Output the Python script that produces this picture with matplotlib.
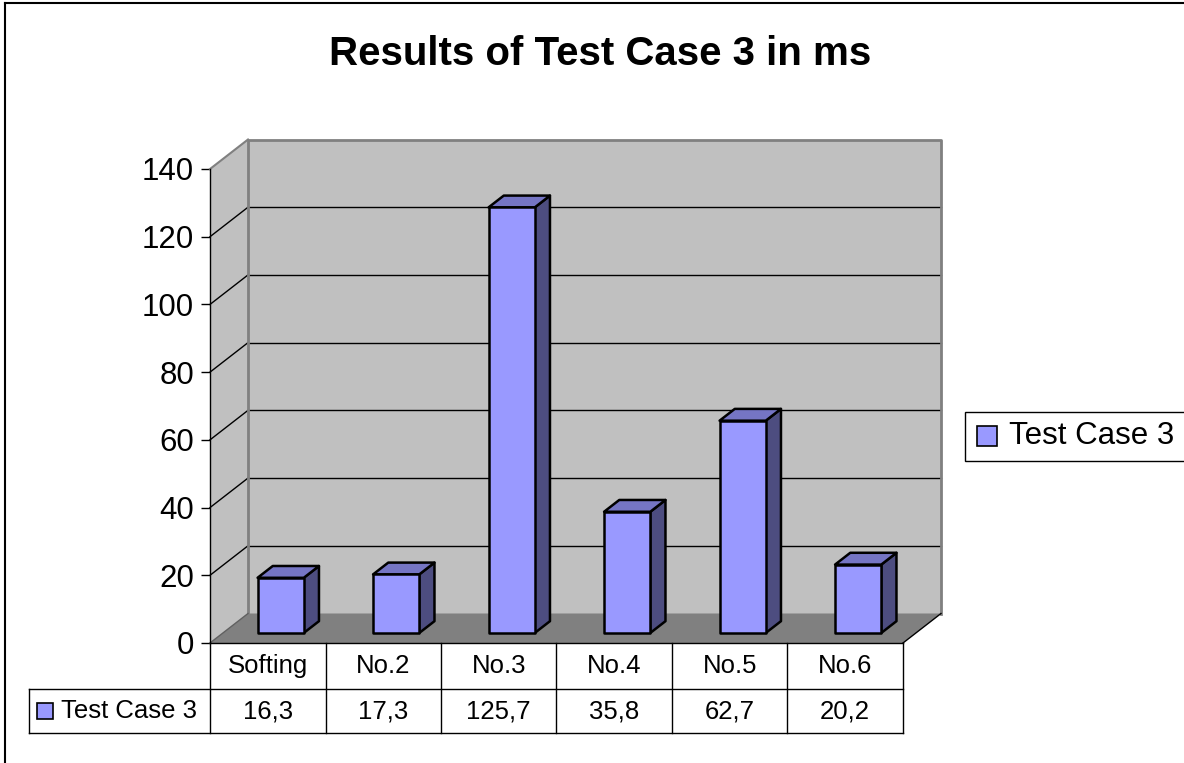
import matplotlib
matplotlib.use("Agg")
import matplotlib.pyplot as plt
from matplotlib.patches import Polygon, Rectangle
from matplotlib.lines import Line2D

plt.rcParams['font.family'] = ['Liberation Sans', 'DejaVu Sans']

# ---- data ----
categories = ["Softing", "No.2", "No.3", "No.4", "No.5", "No.6"]
values = [16.3, 17.3, 125.7, 35.8, 62.7, 20.2]
series_name = "Test Case 3"
title = "Results of Test Case 3 in ms"
yticks = [0, 20, 40, 60, 80, 100, 120, 140]

# ---- style ----
FRONT = "#9999FF"
TOP = "#7575C4"
SIDE = "#4D4D80"
WALL = "#C0C0C0"
FLOOR = "#808080"
EDGEGRAY = "#808080"

W, H = 1184, 763
fig = plt.figure(figsize=(W / 100, H / 100), dpi=100)
fig.patch.set_facecolor("white")

# axes = front plane of the 3D plot
L_px, R_px, T_px, B_px = 210, 903, 169, 643
ax = fig.add_axes([L_px / W, 1 - B_px / H, (R_px - L_px) / W, (B_px - T_px) / H])
n = len(categories)
ymax = 140
ax.set_xlim(0, n)
ax.set_ylim(0, ymax)
ax.set_facecolor("none")

px_x = (R_px - L_px) / n          # pixels per category
px_y = (B_px - T_px) / ymax       # pixels per value unit
DX = 38 / px_x                    # depth offset (category units)
DY = 29.5 / px_y                  # depth offset (value units)

# side wall
ax.add_patch(Polygon([(0, 0), (DX, DY), (DX, ymax + DY), (0, ymax)], closed=True,
                     facecolor=WALL, edgecolor="none", clip_on=False, zorder=1))
# back wall
ax.add_patch(Rectangle((DX, DY), n, ymax, facecolor=WALL, edgecolor="none",
                       clip_on=False, zorder=1))
# floor
ax.add_patch(Polygon([(0, 0), (n, 0), (n + DX, DY), (DX, DY)], closed=True,
                     facecolor=FLOOR, edgecolor="none", clip_on=False, zorder=1))

# gridlines
for t in yticks[1:-1]:
    ax.plot([DX, n + DX], [t + DY, t + DY], color="black", lw=1, clip_on=False, zorder=2)
    ax.plot([0, DX], [t, t + DY], color="black", lw=1, clip_on=False, zorder=2)

# wall outlines
ax.plot([DX, DX, n + DX, n + DX], [DY, ymax + DY, ymax + DY, DY], color=EDGEGRAY,
        lw=2, clip_on=False, zorder=2)
ax.plot([0, DX], [ymax, ymax + DY], color=EDGEGRAY, lw=1.5, clip_on=False, zorder=2)
ax.plot([0, DX], [0, DY], color="#606060", lw=1, clip_on=False, zorder=2)
ax.plot([n, n + DX], [0, DY], color="black", lw=1, clip_on=False, zorder=2)

# bars
bw = 0.4
f0, f1 = 0.34, 0.74
a, b = f0 * DX, f0 * DY
c, d = f1 * DX, f1 * DY
for i, v in enumerate(values):
    x0 = i + 0.5 - bw / 2
    x1 = x0 + bw
    kw = dict(closed=True, edgecolor="black", lw=1.8, joinstyle="round",
              clip_on=False, zorder=3)
    ax.add_patch(Polygon([(x1 + a, b), (x1 + c, d), (x1 + c, v + d), (x1 + a, v + b)],
                         facecolor=SIDE, **kw))
    ax.add_patch(Polygon([(x0 + a, v + b), (x1 + a, v + b), (x1 + c, v + d), (x0 + c, v + d)],
                         facecolor=TOP, **kw))
    ax.add_patch(Polygon([(x0 + a, b), (x1 + a, b), (x1 + a, v + b), (x0 + a, v + b)],
                         facecolor=FRONT, **kw))

# y axis
for s in ["top", "right", "bottom"]:
    ax.spines[s].set_visible(False)
ax.spines["left"].set_color("black")
ax.spines["left"].set_linewidth(1)
ax.spines["left"].set_zorder(4)
ax.set_yticks(yticks)
ax.set_yticklabels([str(t) for t in yticks], fontsize=22.5)
ax.tick_params(axis="y", direction="out", length=6.5, width=1, pad=5, colors="black")
ax.set_xticks([])

# data table
r1 = 46 / px_y
r2 = 44 / px_y
Lx = (29 - L_px) / px_x
tk = dict(color="black", lw=1, clip_on=False, zorder=4)
ax.plot([0, n], [0, 0], **tk)
ax.plot([Lx, n], [-r1, -r1], **tk)
ax.plot([Lx, n], [-r1 - r2, -r1 - r2], **tk)
ax.plot([Lx, Lx], [-r1, -r1 - r2], **tk)
for k in range(n + 1):
    ax.plot([k, k], [0, -r1 - r2], **tk)
for i, (cat, v) in enumerate(zip(categories, values)):
    ax.text(i + 0.5, -r1 / 2, cat, ha="center", va="center", fontsize=18.5, clip_on=False)
    ax.text(i + 0.5, -r1 - r2 / 2, f"{v:.1f}".replace(".", ","), ha="center",
            va="center", fontsize=18.5, clip_on=False)
ax.plot([(45 - L_px) / px_x], [-r1 - r2 / 2], marker="s", markersize=11.5,
        markerfacecolor=FRONT, markeredgecolor="black", markeredgewidth=1.2,
        linestyle="none", clip_on=False, zorder=5)
ax.text((61 - L_px) / px_x, -r1 - r2 / 2, series_name, ha="left", va="center",
        fontsize=18.5, clip_on=False)

# legend (box runs off the right edge like the reference)
ly = 1 - 436 / H
fig.add_artist(Rectangle((965 / W, 1 - 461 / H), 0.3, 49 / H, transform=fig.transFigure,
                         facecolor="white", edgecolor="black", lw=1, zorder=6))
fig.add_artist(Line2D([987 / W], [ly], marker="s", markersize=14.5, markerfacecolor=FRONT,
                      markeredgecolor="black", markeredgewidth=1.2, linestyle="none",
                      transform=fig.transFigure, zorder=7))
fig.text(1009 / W, ly, series_name, ha="left", va="center", fontsize=22.5, zorder=7)

# title
fig.text(600 / W, 1 - 54 / H, title, ha="center", va="center", fontsize=29,
         fontweight="bold")

# outer chart frame (only left/top edges visible; it continues beyond the image)
fig.add_artist(Line2D([5 / W, 5 / W], [0, 1 - 3 / H], color="black", lw=1.5,
                      transform=fig.transFigure, zorder=10))
fig.add_artist(Line2D([5 / W, 1], [1 - 3 / H, 1 - 3 / H], color="black", lw=1.5,
                      transform=fig.transFigure, zorder=10))

fig.savefig("out.png", dpi=100, facecolor="white")
